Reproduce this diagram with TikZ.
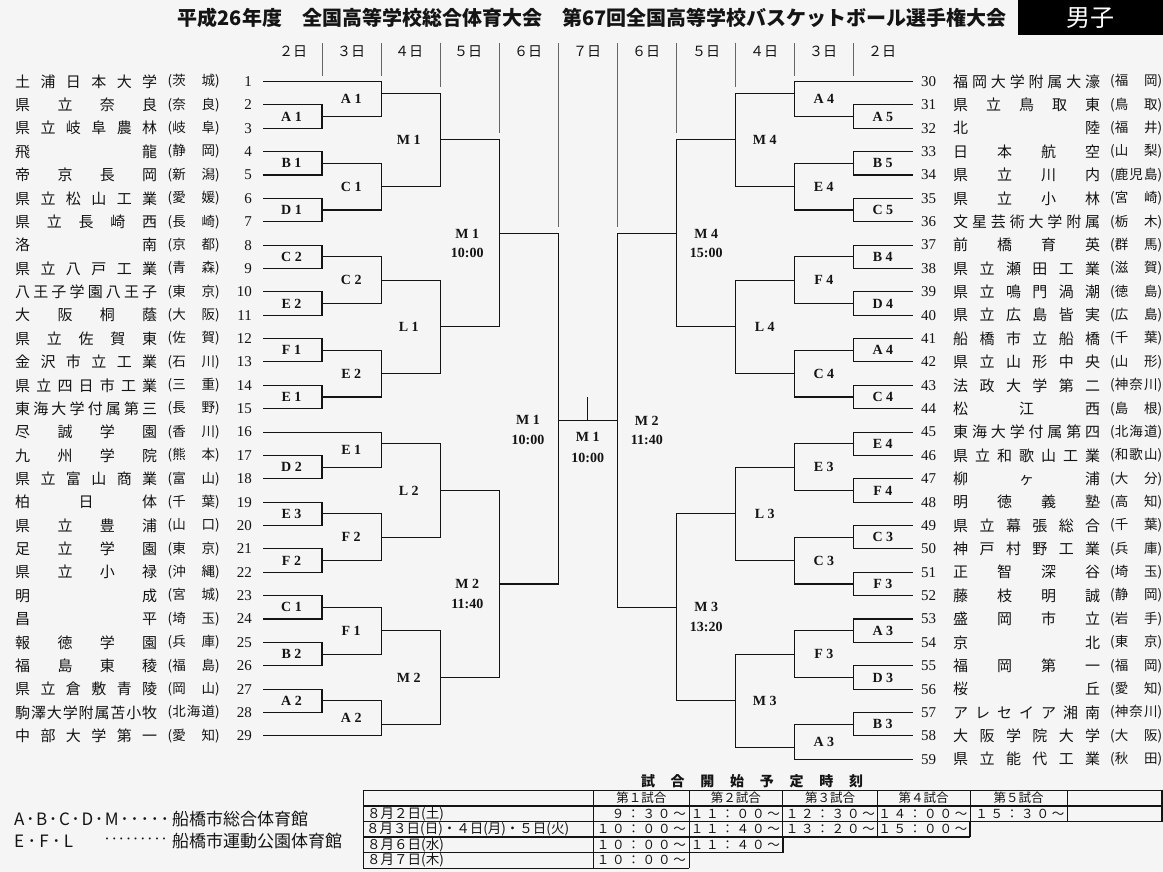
\documentclass[tikz,border=0pt]{standalone}
\usepackage{fontspec}
\setmainfont{Liberation Serif}
\newfontfamily\jp{Noto Sans CJK JP}
\usetikzlibrary{calc}
\ExplSyntaxOn
\NewDocumentCommand\spread{mm}{\makebox[#1][s]{\tl_map_inline:nn{#2}{##1\hfill}\unskip}}
\ExplSyntaxOff
\def\labdx{-31}
\newcommand\bk[5]{%
  \draw[br] (#2) -- (#2 -| #4) -- (#3 -| #4) -- (#3);
  \coordinate (#1) at ($(#2 -| #4)!0.5!(#3 -| #4)$);
  \node[lab] (#1t) at ($(#1)+(\labdx,0)$) {#5};}
\newcommand\bkbye[7]{%
  \draw[br] (#2) -- (#2 -| #4) -- (#3 -| #4) -- (#3);
  \coordinate (#1m) at ($(#2 -| #4)!0.5!(#3 -| #4)$);
  \coordinate (#1r) at ($(#6)!0.5!(#7)$);
  \coordinate (#1) at (#1r -| #4);
  \node[lab] (#1t) at ($(#1m)+(\labdx,0)$) {#5};}
\newcommand\bkt[6]{%
  \bk{#1}{#2}{#3}{#4}{#5}
  \node[lab] (#1tt) at ($(#1)+(\labdx,20)$) {#6};}
\newcommand\teamL[3]{%
  \coordinate (L#1) at (263,{81.5+(#1-1)*23.37});
  \node[num,anchor=east] (kL#1) at (252,{81.5+(#1-1)*23.37}) {#1};
  \node[nm] (nL#1) at (15,{81.5+(#1-1)*23.37}) {\spread{142pt}{#2}};
  \node[pf] (pL#1) at (167.5,{81.5+(#1-1)*23.37}) {\spread{52pt}{#3}};}
\newcommand\teamR[3]{%
  \coordinate (R#1) at (913,{81.5+(#1-30)*23.37});
  \node[num,anchor=west] (kR#1) at (921,{81.5+(#1-30)*23.37}) {#1};
  \node[nm] (nR#1) at (953,{81.5+(#1-30)*23.37}) {\spread{147pt}{#2}};
  \node[pf] (pR#1) at (1110,{81.5+(#1-30)*23.37}) {\spread{52pt}{#3}};}
\definecolor{bgc}{RGB}{245,245,245}
\definecolor{ink}{RGB}{20,20,20}
\begin{document}
\begin{tikzpicture}[x=1pt,y=-1pt,
  br/.style={line width=1.1pt,draw=ink,line join=miter},
  sepl/.style={line width=0.7pt,draw=black!60},
  nm/.style={font=\jp\fontsize{15}{15}\selectfont,inner sep=0pt,anchor=west,text=ink},
  pf/.style={font=\jp\fontsize{13.5}{14}\selectfont,inner sep=0pt,anchor=west,text=ink},
  num/.style={font=\fontsize{15}{15}\selectfont,inner sep=0pt,text=ink},
  lab/.style={font=\bfseries\fontsize{14}{14}\selectfont,inner sep=0pt,text=ink},
  day/.style={font=\jp\fontsize{14}{14}\selectfont,inner sep=0pt,text=ink},
  tb/.style={font=\jp\fontsize{12.5}{13}\selectfont,inner sep=0pt,text=ink},
  tt/.style={font=\jp\fontsize{12.5}{13}\selectfont,inner sep=0pt,text=ink,anchor=east},
  td/.style={font=\jp\fontsize{13.5}{14}\selectfont,inner sep=0pt,text=ink,anchor=west},
  lg/.style={font=\jp\fontsize{17}{17}\selectfont,inner sep=0pt,anchor=west,text=ink},
  thin/.style={line width=0.7pt,draw=ink},
  thick/.style={line width=1.8pt,draw=ink}]
\useasboundingbox (0,0) rectangle (1163,872);
\fill[bgc] (0,0) rectangle (1163,872);
% title
\node[font=\jp\bfseries\fontsize{20}{20}\selectfont,inner sep=0pt,text=ink] (title) at (592,18)
  {平成26年度　全国高等学校総合体育大会　第67回全国高等学校バスケットボール選手権大会};
\node[fill=black,minimum width=145,minimum height=35,anchor=north east,inner sep=0pt,
  text=white,font=\jp\fontsize{24}{24}\selectfont] (sex) at (1163,0) {男子};
% column coordinates
\coordinate (cl1) at (322,0);
\coordinate (cl2) at (381.7,0);
\coordinate (cl3) at (440.7,0);
\coordinate (cl4) at (499.3,0);
\coordinate (cl5) at (558.3,0);
\coordinate (cc) at (617.3,0);
\coordinate (cr4) at (676.7,0);
\coordinate (cr3) at (735.3,0);
\coordinate (cr2) at (794.3,0);
\coordinate (cr1) at (853.3,0);
% separators
\draw[sepl] (322,43) -- (322,75.7);
\draw[sepl] (381.7,43) -- (381.7,75.7);
\draw[sepl] (440.7,43) -- (440.7,86.7);
\draw[sepl] (499.3,43) -- (499.3,133.3);
\draw[sepl] (558.3,43) -- (558.3,226.7);
\draw[sepl] (617.3,43) -- (617.3,226.7);
\draw[sepl] (676.7,43) -- (676.7,133.3);
\draw[sepl] (735.3,43) -- (735.3,86.7);
\draw[sepl] (794.3,43) -- (794.3,75.7);
\draw[sepl] (853.3,43) -- (853.3,75.7);
% day headers
\node[day] (d1) at (293,52) {２日};
\node[day] (d2) at (351,52) {３日};
\node[day] (d3) at (409,52) {４日};
\node[day] (d4) at (468,52) {５日};
\node[day] (d5) at (528,52) {６日};
\node[day] (d6) at (587,52) {７日};
\node[day] (d7) at (646,52) {６日};
\node[day] (d8) at (706,52) {５日};
\node[day] (d9) at (764,52) {４日};
\node[day] (d10) at (823,52) {３日};
\node[day] (d11) at (882,52) {２日};
% left teams
\teamL{1}{土浦日本大学}{{(茨}{城)}}
\teamL{2}{県立奈良}{{(奈}{良)}}
\teamL{3}{県立岐阜農林}{{(岐}{阜)}}
\teamL{4}{飛龍}{{(静}{岡)}}
\teamL{5}{帝京長岡}{{(新}{潟)}}
\teamL{6}{県立松山工業}{{(愛}{媛)}}
\teamL{7}{県立長崎西}{{(長}{崎)}}
\teamL{8}{洛南}{{(京}{都)}}
\teamL{9}{県立八戸工業}{{(青}{森)}}
\teamL{10}{八王子学園八王子}{{(東}{京)}}
\teamL{11}{大阪桐蔭}{{(大}{阪)}}
\teamL{12}{県立佐賀東}{{(佐}{賀)}}
\teamL{13}{金沢市立工業}{{(石}{川)}}
\teamL{14}{県立四日市工業}{{(三}{重)}}
\teamL{15}{東海大学付属第三}{{(長}{野)}}
\teamL{16}{尽誠学園}{{(香}{川)}}
\teamL{17}{九州学院}{{(熊}{本)}}
\teamL{18}{県立富山商業}{{(富}{山)}}
\teamL{19}{柏日体}{{(千}{葉)}}
\teamL{20}{県立豊浦}{{(山}{口)}}
\teamL{21}{足立学園}{{(東}{京)}}
\teamL{22}{県立小禄}{{(沖}{縄)}}
\teamL{23}{明成}{{(宮}{城)}}
\teamL{24}{昌平}{{(埼}{玉)}}
\teamL{25}{報徳学園}{{(兵}{庫)}}
\teamL{26}{福島東稜}{{(福}{島)}}
\teamL{27}{県立倉敷青陵}{{(岡}{山)}}
\teamL{28}{駒澤大学附属苫小牧}{{(北}{海}{道)}}
\teamL{29}{中部大学第一}{{(愛}{知)}}
% right teams
\teamR{30}{福岡大学附属大濠}{{(福}{岡)}}
\teamR{31}{県立鳥取東}{{(鳥}{取)}}
\teamR{32}{北陸}{{(福}{井)}}
\teamR{33}{日本航空}{{(山}{梨)}}
\teamR{34}{県立川内}{{(鹿}{児}{島)}}
\teamR{35}{県立小林}{{(宮}{崎)}}
\teamR{36}{文星芸術大学附属}{{(栃}{木)}}
\teamR{37}{前橋育英}{{(群}{馬)}}
\teamR{38}{県立瀬田工業}{{(滋}{賀)}}
\teamR{39}{県立鳴門渦潮}{{(徳}{島)}}
\teamR{40}{県立広島皆実}{{(広}{島)}}
\teamR{41}{船橋市立船橋}{{(千}{葉)}}
\teamR{42}{県立山形中央}{{(山}{形)}}
\teamR{43}{法政大学第二}{{(神}{奈}{川)}}
\teamR{44}{松江西}{{(島}{根)}}
\teamR{45}{東海大学付属第四}{{(北}{海}{道)}}
\teamR{46}{県立和歌山工業}{{(和}{歌}{山)}}
\teamR{47}{柳ヶ浦}{{(大}{分)}}
\teamR{48}{明徳義塾}{{(高}{知)}}
\teamR{49}{県立幕張総合}{{(千}{葉)}}
\teamR{50}{神戸村野工業}{{(兵}{庫)}}
\teamR{51}{正智深谷}{{(埼}{玉)}}
\teamR{52}{藤枝明誠}{{(静}{岡)}}
\teamR{53}{盛岡市立}{{(岩}{手)}}
\teamR{54}{京北}{{(東}{京)}}
\teamR{55}{福岡第一}{{(福}{岡)}}
\teamR{56}{桜丘}{{(愛}{知)}}
\teamR{57}{アレセイア湘南}{{(神}{奈}{川)}}
\teamR{58}{大阪学院大学}{{(大}{阪)}}
\teamR{59}{県立能代工業}{{(秋}{田)}}
% ---- left bracket
\def\labdx{-30.5}
\bk{la1}{L2}{L3}{cl1}{A 1}
\bk{lb1}{L4}{L5}{cl1}{B 1}
\bk{ld1}{L6}{L7}{cl1}{D 1}
\bk{lc2}{L8}{L9}{cl1}{C 2}
\bk{le2}{L10}{L11}{cl1}{E 2}
\bk{lf1}{L12}{L13}{cl1}{F 1}
\bk{le1}{L14}{L15}{cl1}{E 1}
\bk{ld2}{L17}{L18}{cl1}{D 2}
\bk{le3}{L19}{L20}{cl1}{E 3}
\bk{lf2}{L21}{L22}{cl1}{F 2}
\bk{lc1}{L23}{L24}{cl1}{C 1}
\bk{lb2}{L25}{L26}{cl1}{B 2}
\bk{la2}{L27}{L28}{cl1}{A 2}
\bkbye{LA1}{L1}{la1}{cl2}{A 1}{L1}{L2}
\bk{LC1}{lb1}{ld1}{cl2}{C 1}
\bk{LC2}{lc2}{le2}{cl2}{C 2}
\bk{LE2}{lf1}{le1}{cl2}{E 2}
\bkbye{LE1}{L16}{ld2}{cl2}{E 1}{L16}{L17}
\bk{LF2}{le3}{lf2}{cl2}{F 2}
\bk{LF1}{lc1}{lb2}{cl2}{F 1}
\bkbye{LA2}{la2}{L29}{cl2}{A 2}{L28}{L29}
\def\labdx{-32}
\bk{LMa}{LA1}{LC1}{cl3}{M 1}
\bk{LLa}{LC2}{LE2}{cl3}{L 1}
\bk{LLb}{LE1}{LF2}{cl3}{L 2}
\bk{LMb}{LF1}{LA2}{cl3}{M 2}
\bkt{LMc}{LMa}{LLa}{cl4}{M 1}{10:00}
\bkt{LMd}{LLb}{LMb}{cl4}{M 2}{11:40}
% ---- right bracket
\def\labdx{29.5}
\bk{ra5}{R31}{R32}{cr1}{A 5}
\bk{rb5}{R33}{R34}{cr1}{B 5}
\bk{rc5}{R35}{R36}{cr1}{C 5}
\bk{rb4}{R37}{R38}{cr1}{B 4}
\bk{rd4}{R39}{R40}{cr1}{D 4}
\bk{ra4}{R41}{R42}{cr1}{A 4}
\bk{rc4}{R43}{R44}{cr1}{C 4}
\bk{re4}{R45}{R46}{cr1}{E 4}
\bk{rf4}{R47}{R48}{cr1}{F 4}
\bk{rc3}{R49}{R50}{cr1}{C 3}
\bk{rf3}{R51}{R52}{cr1}{F 3}
\bk{ra3}{R53}{R54}{cr1}{A 3}
\bk{rd3}{R55}{R56}{cr1}{D 3}
\bk{rb3}{R57}{R58}{cr1}{B 3}
\bkbye{RA4}{R30}{ra5}{cr2}{A 4}{R30}{R31}
\bk{RE4}{rb5}{rc5}{cr2}{E 4}
\bk{RF4}{rb4}{rd4}{cr2}{F 4}
\bk{RC4}{ra4}{rc4}{cr2}{C 4}
\bk{RE3}{re4}{rf4}{cr2}{E 3}
\bk{RC3}{rc3}{rf3}{cr2}{C 3}
\bk{RF3}{ra3}{rd3}{cr2}{F 3}
\bkbye{RA3}{rb3}{R59}{cr2}{A 3}{R58}{R59}
\bk{RMa}{RA4}{RE4}{cr3}{M 4}
\bk{RLa}{RF4}{RC4}{cr3}{L 4}
\bk{RLb}{RE3}{RC3}{cr3}{L 3}
\bk{RMb}{RF3}{RA3}{cr3}{M 3}
\bkt{RMc}{RMa}{RLa}{cr4}{M 4}{15:00}
\bkt{RMd}{RLb}{RMb}{cr4}{M 3}{13:20}
\bkt{RMe}{RMc}{RMd}{cc}{M 2}{11:40}
% ---- final
\draw[br] (LMc) -- (LMc -| cl5) -- (LMd -| cl5) -- (LMd);
\coordinate (finL) at (RMe -| cl5);
\draw[br] (finL) -- (RMe);
\coordinate (tickB) at ($(finL)!0.5!(RMe)$);
\coordinate (tickT) at ($(tickB)+(0,-23)$);
\draw[br] (tickB) -- (tickT);
\node[lab] (f6a) at ($(finL)+(-30.3,0)$) {M 1};
\node[lab] (f6b) at ($(finL)+(-30.3,20)$) {10:00};
\node[lab] (f7a) at ($(tickB)+(0,17)$) {M 1};
\node[lab] (f7b) at ($(tickB)+(0,38)$) {10:00};
% ---- legend
\node[lg] (lg1a) at (14,819) {\spread{155pt}{A･B･C･D･M･････}};
\node[lg] (lg1b) at (172,819) {船橋市総合体育館};
\node[lg] (lg2a) at (14,841) {\spread{59pt}{E･F･L}};
\node[lg,font=\jp\fontsize{12}{12}\selectfont] (lg2b) at (104,841) {\spread{63pt}{･････････}};
\node[lg] (lg2c) at (172,841) {船橋市運動公園体育館};
% ---- table
\node[font=\jp\bfseries\fontsize{14}{14}\selectfont,inner sep=0pt,text=ink] (ttl) at (752,781) {\spread{222pt}{試合開始予定時刻}};
\draw[thin] (363,790) -- (1162.5,790);
\draw[thin] (363,821.5) -- (1162.5,821.5);
\draw[thin] (363,868) -- (689,868);
\draw[thin] (363,790) -- (363,868);
\draw[thin] (593.8,790) -- (593.8,868);
\draw[thin] (689,790) -- (689,868);
\draw[thin] (782.6,790) -- (782.6,837);
\draw[thin] (877.5,790) -- (877.5,837);
\draw[thin] (970,790) -- (970,821.5);
\draw[thin] (1067,790) -- (1067,821.5);
\draw[thick] (363,806) -- (1162.5,806);
\draw[thick] (363,837) -- (970,837);
\draw[thick] (363,852.5) -- (782.6,852.5);
\draw[thick] (970,821.5) -- (970,837);
\draw[thick] (782.6,837) -- (782.6,852.5);
\draw[thick] (1162.2,790) -- (1162.2,821.5);
\node[tb] (h1) at (641.4,798) {第１試合};
\node[tb] (h2) at (735.8,798) {第２試合};
\node[tb] (h3) at (830,798) {第３試合};
\node[tb] (h4) at (923.7,798) {第４試合};
\node[tb] (h5) at (1018.5,798) {第５試合};
\node[td] (r1d) at (367,813.9) {８月２日(土)};
\node[td] (r2d) at (366,829.4) {８月３日(日)・４日(月)・５日(火)};
\node[td] (r3d) at (367,844.9) {８月６日(水)};
\node[td] (r4d) at (367,860.4) {８月７日(木)};
\node[tt] (t11) at (686,813.9) {\spread{74pt}{９：３０～}};
\node[tt] (t12) at (780,813.9) {\spread{89pt}{１１：００～}};
\node[tt] (t13) at (875,813.9) {\spread{89pt}{１２：３０～}};
\node[tt] (t14) at (967.5,813.9) {\spread{89pt}{１４：００～}};
\node[tt] (t15) at (1064.5,813.9) {\spread{89pt}{１５：３０～}};
\node[tt] (t21) at (686,829.4) {\spread{89pt}{１０：００～}};
\node[tt] (t22) at (780,829.4) {\spread{89pt}{１１：４０～}};
\node[tt] (t23) at (875,829.4) {\spread{89pt}{１３：２０～}};
\node[tt] (t24) at (967.5,829.4) {\spread{89pt}{１５：００～}};
\node[tt] (t31) at (686,844.9) {\spread{89pt}{１０：００～}};
\node[tt] (t32) at (780,844.9) {\spread{89pt}{１１：４０～}};
\node[tt] (t41) at (686,860.4) {\spread{89pt}{１０：００～}};
\end{tikzpicture}
\end{document}
